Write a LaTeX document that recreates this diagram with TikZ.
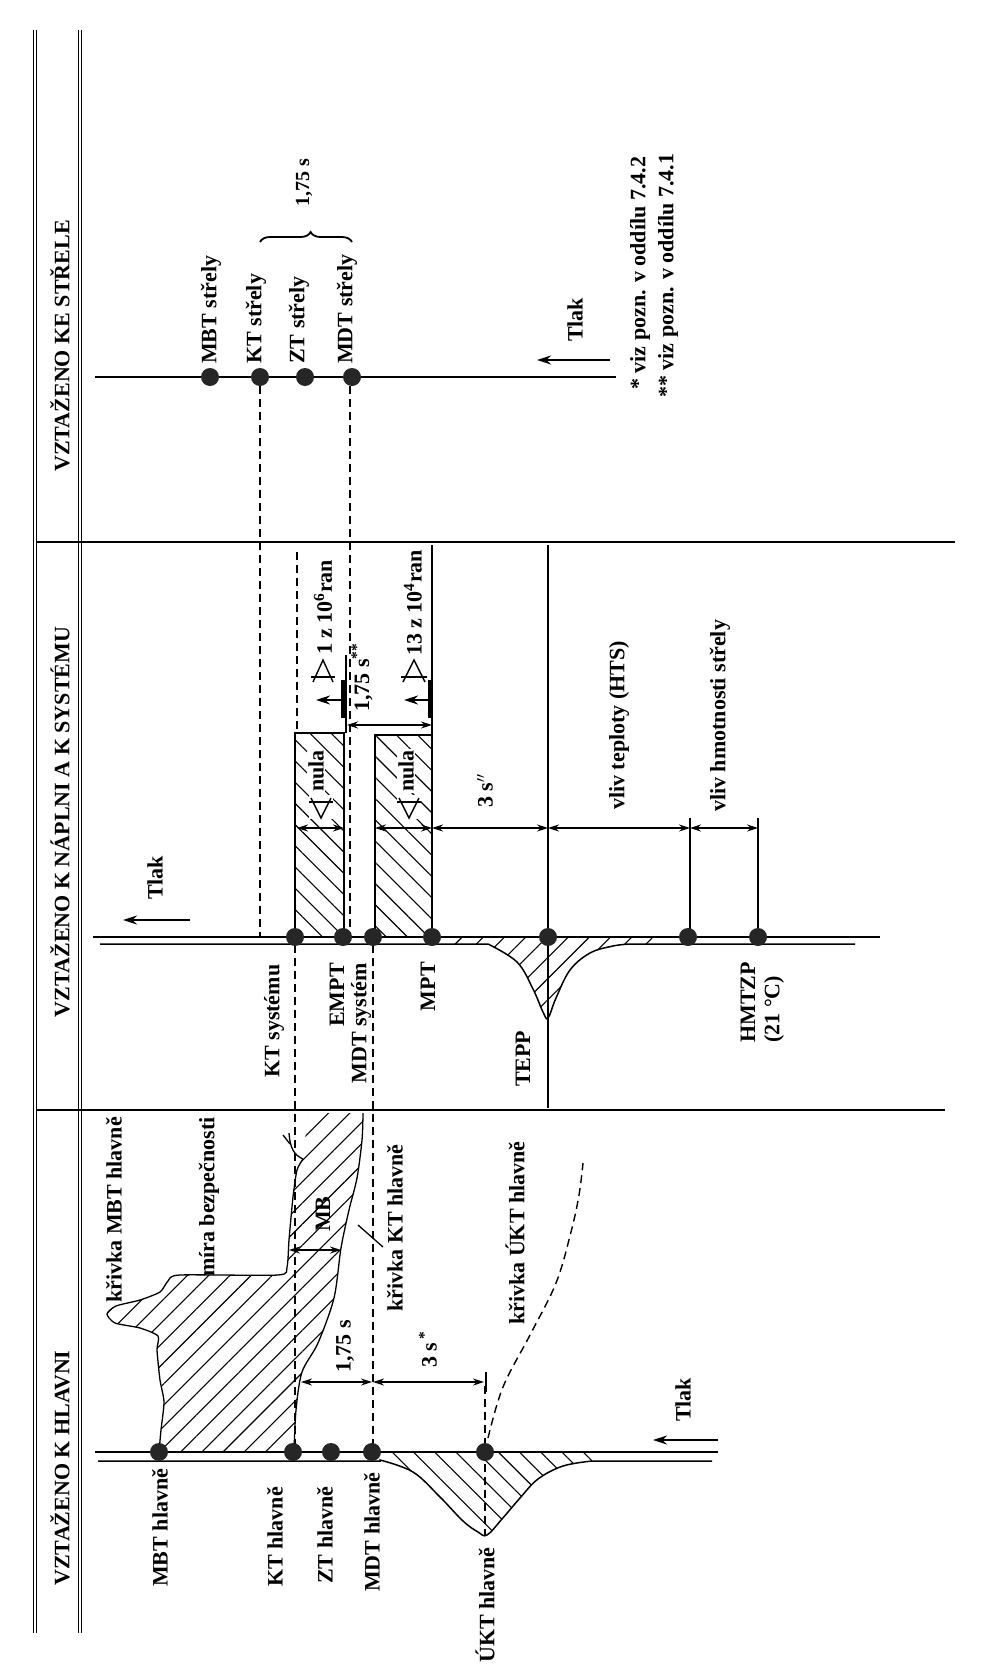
\documentclass[tikz,border=0pt]{standalone}
\usepackage{fontspec}
\setmainfont{Liberation Serif}
\usetikzlibrary{arrows.meta,patterns.meta,decorations.pathreplacing}
\newcommand\lf{\fontsize{22}{24}\selectfont\bfseries}
\newcommand\lfs{\fontsize{20}{22}\selectfont\bfseries}
\begin{document}
\begin{tikzpicture}[x=1pt,y=-1pt,
  lbl/.style={rotate=90,font=\lf,inner sep=0pt},
  slbl/.style={rotate=90,font=\lfs,inner sep=0pt},
  axisline/.style={line width=2.8pt},
  baseln/.style={line width=1.5pt},
  thinln/.style={line width=1.3pt},
  symln/.style={line width=1.4pt},
  dsh/.style={line width=1.4pt, dash pattern=on 8pt off 5pt},
  dot/.style={circle, fill=black!85, minimum size=18pt, inner sep=0pt},
  dim/.style={line width=1.2pt, {Stealth[length=11pt,width=7pt]}-{Stealth[length=11pt,width=7pt]}},
  hatchA/.style={pattern={Lines[angle=45,distance=15pt,line width=1.1pt]}},
  hatchB/.style={pattern={Lines[angle=-45,distance=15pt,line width=1.1pt]}},
  parr/.style={line width=1.4pt, -{Stealth[length=14pt,width=9pt]}},
  frame/.style={line width=1pt, double distance=2pt},
]
\useasboundingbox (0,0) rectangle (1004,1675);
\fill[white] (0,0) rectangle (1004,1675);

% ---------- frame ----------
\draw[frame] (35,30) -- (35,1633);
\draw[frame] (80,30) -- (80,1633);
\draw[line width=1.8pt] (37,542) -- (955,542);
\draw[line width=1.8pt] (37,1110) -- (945,1110);
\node[lbl] (h1) at (60,346) {VZTAŽENO KE STŘELE};
\node[lbl] (h2) at (60,822) {VZTAŽENO K NÁPLNI A K SYSTÉMU};
\node[lbl] (h3) at (60,1468) {VZTAŽENO K HLAVNI};

% ---------- panel 1 ----------
\draw[axisline] (95,377) -- (616,377);
\coordinate (p1a) at (610,360);
\coordinate (p1b) at (537,360);
\draw[parr] (p1a) -- (p1b);
\node[lbl,anchor=west] (tlak1) at (575,342) {Tlak};
\node[lbl,anchor=west] (mbts) at (211,364) {MBT střely};
\node[lbl,anchor=west] (kts) at (256,364) {KT střely};
\node[lbl,anchor=west] (zts) at (299,364) {ZT střely};
\node[lbl,anchor=west] (mdts) at (347,364) {MDT střely};
\draw[line width=1.8pt, decorate, decoration={brace, amplitude=10pt, aspect=0.55}] (260,242) -- (352,242);
\node[slbl,anchor=west] (t175a) at (304,207) {1,75 s};
\node[lbl,anchor=west] (fn1) at (640,390) {* viz pozn. v oddílu 7.4.2};
\node[lbl,anchor=west] (fn2) at (668,398) {** viz pozn. v oddílu 7.4.1};

% projection lines from panel 1
\draw[dsh] (260,386) -- (260,936);
\draw[dsh] (350,386) -- (350,936);

% ---------- panel 2 ----------
\fill[hatchB] (295,733) rectangle (344,937);
\draw[thinln] (295,937) -- (295,733) -- (344,733) -- (344,937);
\fill[hatchB] (375,735) rectangle (432,937);
\draw[thinln] (375,937) -- (375,735) -- (432,735);
\draw[dsh] (297,552) -- (297,733);
\draw[thinln] (432,545) -- (432,937);
\draw[thinln] (548,545) -- (548,1108);
\draw[thinln] (346,655) -- (346,733);
\draw[thinln] (690,818) -- (690,937);
\draw[thinln] (758,818) -- (758,937);

% bell of panel 2
\fill[hatchA] (440,937) -- (440,944) -- (488,944) -- plot[smooth,tension=0.6] coordinates {(488,944) (517,962) (533,989) (543,1012) (548,1018) (556,998) (570,970) (590,953) (613,946) (630,944)} -- (655,944) -- (655,937) -- cycle;
\draw[baseln] (100,944) -- (488,944) -- plot[smooth,tension=0.6] coordinates {(488,944) (517,962) (533,989) (543,1012) (548,1018) (556,998) (570,970) (590,953) (613,946) (630,944)} -- (855,944);
\draw[axisline] (93,937) -- (880,937);

\draw[parr] (190,920) -- (123,920);
\node[lbl,anchor=west] (tlak2) at (155,900) {Tlak};

% dimension row
\draw[dim] (297,828) -- (344,828);
\draw[dim] (375,828) -- (432,828);
\draw[dim] (432,828) -- (548,828);
\draw[dim] (548,828) -- (690,828);
\draw[dim] (690,828) -- (758,828);
\draw[dim] (347,725) -- (432,725);

% "nula" labels with open triangles
\node[lbl,anchor=west,fill=white,inner sep=1pt] (nula1) at (316,793) {nula};
\node[lbl,anchor=west,fill=white,inner sep=1pt] (nula2) at (406,793) {nula};
\fill[white] (309,795) rectangle (333,819);
\draw[symln] (311,798) -- (321,818) -- (331,798);
\draw[symln] (309,802) -- (333,802);
\fill[white] (397,795) rectangle (421,819);
\draw[symln] (399,798) -- (409,818) -- (419,798);
\draw[symln] (397,802) -- (421,802);

% exceed symbols
\draw[line width=4pt] (343,680) -- (343,718);
\draw[parr,line width=1.3pt] (343,700) -- (316,700);
\draw[symln] (313,682) -- (323,660) -- (333,682);
\draw[symln] (311,677) -- (335,677);
\draw[line width=4pt] (430,680) -- (430,718);
\draw[parr,line width=1.3pt] (430,700) -- (404,700);
\draw[symln] (403,682) -- (414,660) -- (425,682);
\draw[symln] (401,677) -- (427,677);
\node[lbl,anchor=west] (r1) at (323,655) {1 z 10\textsuperscript{6}ran};
\node[lbl,anchor=west] (r2) at (413,656) {13 z 10\textsuperscript{4}ran};
\node[lbl,anchor=west] (t175b) at (362,712) {1,75 s\textsuperscript{**}};
\node[lbl,anchor=west] (t3s) at (485,808) {3 s$^{\prime\prime}$};
\node[lbl,anchor=west] (vt) at (619,810) {vliv teploty (HTS)};
\node[lbl,anchor=west] (vh) at (720,812) {vliv hmotnosti střely};

\node[lbl,anchor=west] (kts2) at (274,1078) {KT systému};
\node[lbl,anchor=east] (empt) at (337,963) {EMPT};
\node[lbl,anchor=east] (mdtsys) at (361,963) {MDT systém};
\node[lbl,anchor=east] (mpt) at (428,962) {MPT};
\node[lbl,anchor=west] (tepp) at (523,1087) {TEPP};
\node[lbl,anchor=west] (hmtzp) at (748,1043) {HMTZP};
\node[lbl,anchor=west] (t21) at (774,1043) {(21 °C)};

% projection lines panel 2 -> panel 3
\draw[dsh] (295,945) -- (295,1450);
\draw[dsh] (373,945) -- (373,1450);

% ---------- panel 3 ----------
\fill[hatchA] plot[smooth,tension=0.4] coordinates {(159,1452) (161,1430) (164,1402) (160,1380) (157,1350) (158,1336) (140,1328) (115,1323) (107,1314) (116,1306) (140,1300) (160,1292) (168,1281) (180,1275) (278,1275) (287,1267) (289,1240) (293,1197) (297,1170) (303,1159)} -- (308,1113) -- plot[smooth,tension=0.5] coordinates {(363,1113) (362,1140) (357,1178) (349,1210) (341,1248) (334,1298) (318,1343) (302,1372) (296,1410) (294,1452)} -- cycle;
\draw[thinln] plot[smooth,tension=0.4] coordinates {(159,1452) (161,1430) (164,1402) (160,1380) (157,1350) (158,1336) (140,1328) (115,1323) (107,1314) (116,1306) (140,1300) (160,1292) (168,1281) (180,1275) (278,1275) (287,1267) (289,1240) (293,1197) (297,1170) (303,1159)};
\draw[thinln] (303,1159) .. controls (294,1155) and (290,1148) .. (289,1133);
\draw[thinln] (290,1144) -- (283,1135);
\draw[thinln] plot[smooth,tension=0.5] coordinates {(363,1113) (362,1140) (357,1178) (349,1210) (341,1248) (334,1298) (318,1343) (302,1372) (296,1410) (294,1452)};
\draw[thinln] (358,1225) -- (383,1247);

\fill[hatchB] (380,1452) -- (380,1460) -- plot[smooth,tension=0.6] coordinates {(380,1460) (413,1472) (440,1497) (463,1521) (478,1532) (487,1535) (502,1519) (520,1498) (538,1479) (563,1466) (592,1461)} -- (592,1452) -- cycle;
\draw[baseln] (98,1461) -- (380,1461) -- plot[smooth,tension=0.6] coordinates {(380,1460) (413,1472) (440,1497) (463,1521) (478,1532) (487,1535) (502,1519) (520,1498) (538,1479) (563,1466) (592,1461)} -- (712,1461);
\draw[axisline] (95,1452) -- (718,1452);
\draw[dsh] (485,1386) -- (485,1535);
\draw[dsh] plot[smooth,tension=0.6] coordinates {(488,1438) (503,1387) (530,1335) (556,1283) (571,1232) (579,1195) (583,1163)};

\draw[parr] (718,1440) -- (653,1440);
\node[lbl,anchor=west] (tlak3) at (683,1422) {Tlak};

\draw[dim] (289,1250) -- (341,1250);
\draw[dim] (301,1382) -- (372,1382);
\draw[dim] (373,1382) -- (484,1382);
\draw[thinln] (486,1372) -- (486,1392);

\node[lbl,anchor=west] (mb) at (323,1232) {MB};
\node[lbl,anchor=west] (mira) at (209,1277) {míra bezpečnosti};
\node[lbl,anchor=west] (kmbt) at (114,1303) {křivka MBT hlavně};
\node[lbl,anchor=west] (kkt) at (395,1312) {křivka KT hlavně};
\node[lbl,anchor=west] (kukt) at (515,1325) {křivka ÚKT hlavně};
\node[lbl,anchor=west] (t175c) at (345,1373) {1,75 s};
\node[lbl,anchor=west] (t3sb) at (428,1368) {3 s\,\textsuperscript{*}};

\node[lbl,anchor=west] (mbth) at (160,1587) {MBT hlavně};
\node[lbl,anchor=west] (kth) at (275,1587) {KT hlavně};
\node[lbl,anchor=west] (zth) at (325,1584) {ZT hlavně};
\node[lbl,anchor=west] (mdth) at (372,1592) {MDT hlavně};
\node[lbl,anchor=west] (ukth) at (485,1663) {ÚKT hlavně};

% ---------- dots ----------
\node[dot] (d1) at (210,377) {};
\node[dot] (d2) at (260,377) {};
\node[dot] (d3) at (305,377) {};
\node[dot] (d4) at (352,377) {};
\node[dot] (e1) at (295,937) {};
\node[dot] (e2) at (343,937) {};
\node[dot] (e3) at (373,937) {};
\node[dot] (e4) at (432,937) {};
\node[dot] (e5) at (548,937) {};
\node[dot] (e6) at (688,937) {};
\node[dot] (e7) at (758,937) {};
\node[dot] (f1) at (159,1452) {};
\node[dot] (f2) at (293,1452) {};
\node[dot] (f3) at (331,1452) {};
\node[dot] (f4) at (372,1452) {};
\node[dot] (f5) at (485,1452) {};
\end{tikzpicture}
\end{document}
